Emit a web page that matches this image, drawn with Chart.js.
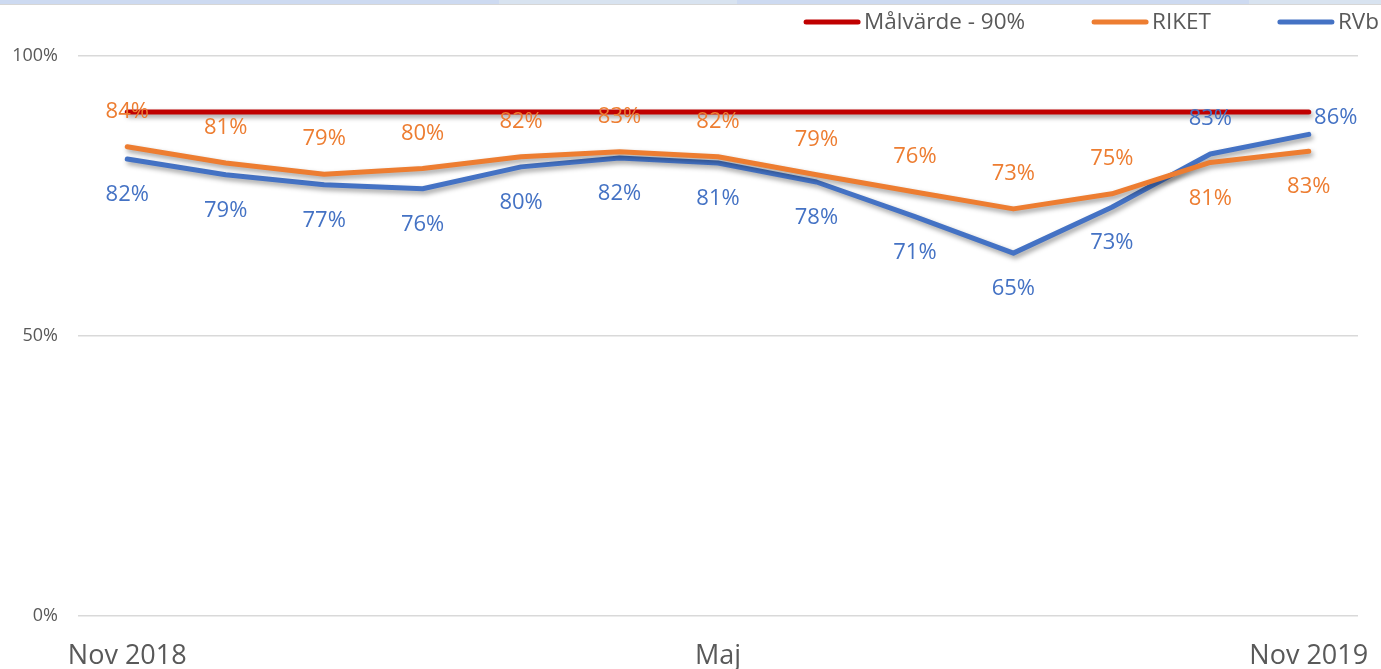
<!DOCTYPE html>
<html>
<head>
<meta charset="utf-8">
<script src="https://cdn.jsdelivr.net/npm/chart.js@4"></script>
<style>
  html, body { margin: 0; padding: 0; background: #ffffff; overflow: hidden; }
  #wrap { position: relative; width: 1381px; height: 669px; }
  #strip { position: absolute; left: 0; top: 0; width: 1381px; height: 4px; border-bottom: 1px solid #d6d6d6;
    background: linear-gradient(to right, #cddaf1 0px, #cddaf1 499px, #d8e3f0 499px, #d8e3f0 737px, #cddaf1 737px, #cddaf1 1249px, #d8e3f0 1249px); }
  canvas { position: absolute; left: 0; top: 0; }
</style>
</head>
<body>
<div id="wrap">
  <canvas id="c" width="1381" height="669"></canvas>
  <div id="strip"></div>
</div>
<script>
// ---- data ----
const categories = ['Nov 2018','Dec','Jan','Feb','Mar','Apr','Maj','Jun','Jul','Aug','Sep','Okt','Nov 2019'];
const shownTicks = ['Nov 2018','Maj','Nov 2019'];
const malvarde = [90,90,90,90,90,90,90,90,90,90,90,90,90];
const riket = [83.8,80.9,78.9,79.9,82.0,82.9,82.0,78.8,75.7,72.7,75.4,81.0,83.0];
const rvb   = [81.6,78.8,77.0,76.3,80.2,81.8,80.9,77.5,71.3,64.8,73.0,82.5,86.0];
const yTicks = [0, 50, 100];

const FONT = "'Open Sans', 'Noto Sans', sans-serif";
const GREY = '#595959';

// label placement per point (style, not data)
const riketPos = ['above','above','above','above','above','above','above','above','above','above','above','below','below'];
const rvbPos   = ['below','below','below','below','below','below','below','below','below','below','below','above','right'];

const shadowPlugin = {
  id: 'lineShadow',
  beforeDatasetDraw(chart) {
    const ctx = chart.ctx;
    ctx.save();
    ctx.shadowColor = 'rgba(0,0,0,0.38)';
    ctx.shadowBlur = 5;
    ctx.shadowOffsetX = 2;
    ctx.shadowOffsetY = 3;
  },
  afterDatasetDraw(chart) {
    chart.ctx.restore();
  }
};

const labelPlugin = {
  id: 'pointLabels',
  afterDatasetsDraw(chart) {
    const ctx = chart.ctx;
    ctx.save();
    ctx.font = '22px ' + FONT;
    ctx.textBaseline = 'middle';
    ctx.textAlign = 'center';
    chart.data.datasets.forEach((ds, di) => {
      if (!ds.labelPos) return;
      const meta = chart.getDatasetMeta(di);
      ctx.fillStyle = ds.borderColor;
      meta.data.forEach((pt, i) => {
        const v = ds.data[i];
        const txt = Math.round(v) + '%';
        const pos = ds.labelPos[i];
        let x = pt.x, y = pt.y;
        if (pos === 'above') y -= 35;
        else if (pos === 'below') y += 36;
        else if (pos === 'right') { x += 27; y -= 17; }
        ctx.fillText(txt, x, y);
      });
    });
    ctx.restore();
  }
};

const legendPlugin = {
  id: 'customLegend',
  afterDraw(chart) {
    const ctx = chart.ctx;
    ctx.save();
    ctx.font = '22.5px ' + FONT;
    ctx.textBaseline = 'middle';
    ctx.textAlign = 'left';
    const lineW = 56, gap = 4, spacing = 67, y = 22;
    const items = chart.data.datasets.map(d => ({ text: d.label, color: d.borderColor }));
    let total = 0;
    items.forEach((it, i) => { it.w = ctx.measureText(it.text).width; total += lineW + gap + it.w + (i ? spacing : 0); });
    let x = 1379 - total;
    items.forEach((it, i) => {
      if (i) x += spacing;
      ctx.strokeStyle = it.color;
      ctx.lineWidth = 5;
      ctx.lineCap = 'round';
      ctx.beginPath();
      ctx.moveTo(x + 2, y);
      ctx.lineTo(x + lineW - 2, y);
      ctx.stroke();
      ctx.fillStyle = GREY;
      ctx.fillText(it.text, x + lineW + gap, y + 1);
      x += lineW + gap + it.w;
    });
    ctx.restore();
  }
};

const lineStyle = { borderWidth: 5, pointRadius: 0, pointHoverRadius: 0, tension: 0, fill: false,
  borderCapStyle: 'round', borderJoinStyle: 'round' };

new Chart(document.getElementById('c'), {
  type: 'line',
  data: {
    labels: categories,
    datasets: [
      Object.assign({ label: 'Målvärde - 90%', data: malvarde, borderColor: '#C00000', backgroundColor: '#C00000' }, lineStyle),
      Object.assign({ label: 'RIKET', data: riket, borderColor: '#ED7D31', backgroundColor: '#ED7D31', labelPos: riketPos }, lineStyle),
      Object.assign({ label: 'RVb', data: rvb, borderColor: '#4472C4', backgroundColor: '#4472C4', labelPos: rvbPos }, lineStyle)
    ]
  },
  options: {
    responsive: false,
    animation: false,
    devicePixelRatio: 1,
    layout: { padding: { left: 0, right: 23, top: 56, bottom: 0 } },
    plugins: { legend: { display: false }, tooltip: { enabled: false } },
    scales: {
      x: {
        offset: true,
        grid: { display: false, drawTicks: false },
        border: { display: false },
        ticks: {
          autoSkip: false, maxRotation: 0, padding: 24,
          color: GREY, font: { family: FONT, size: 27 },
          callback: function(v, i) { const l = categories[i]; return shownTicks.includes(l) ? l : ''; }
        },
        afterFit(s) { s.height = 53; s.paddingLeft = 0; s.paddingRight = 0; }
      },
      y: {
        min: 0, max: 100,
        afterBuildTicks(s) { s.ticks = yTicks.map(v => ({ value: v })); },
        grid: { color: '#d9d9d9', lineWidth: 1.5, drawTicks: false },
        border: { display: false },
        ticks: { padding: 20, color: GREY, font: { family: FONT, size: 18 }, callback: v => v + '%' },
        afterFit(s) { s.width = 78; }
      }
    }
  },
  plugins: [shadowPlugin, labelPlugin, legendPlugin]
});
</script>
</body>
</html>
